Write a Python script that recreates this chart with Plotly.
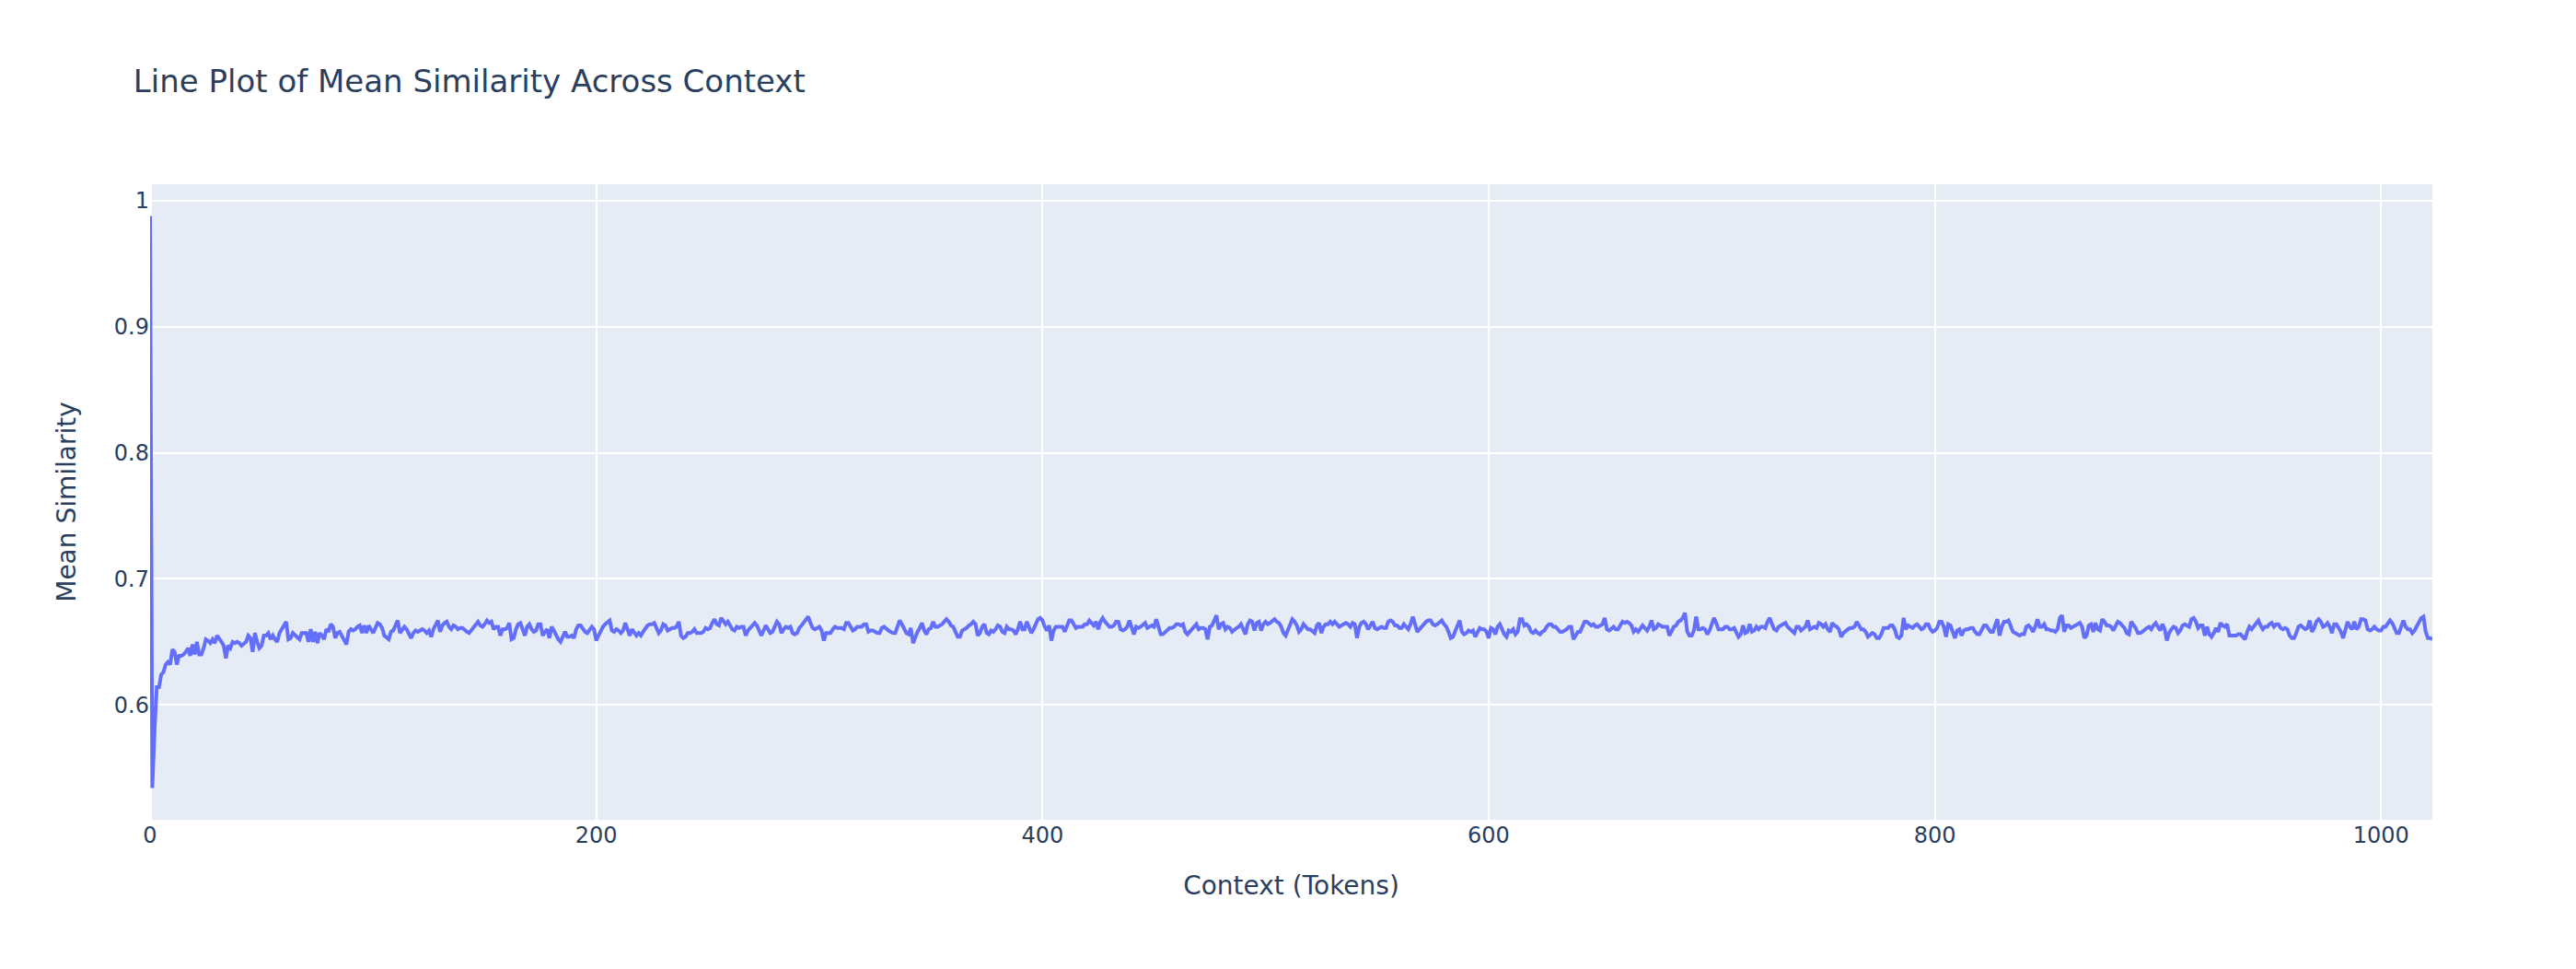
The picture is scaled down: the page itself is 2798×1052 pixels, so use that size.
import plotly.graph_objects as go

title_text = "Line Plot of Mean Similarity Across Context"
x_label = "Context (Tokens)"
y_label = "Mean Similarity"

# Mean similarity per context position
mean_similarity = [
    # 0-97
    0.988, 0.534, 0.580, 0.614, 0.614, 0.624, 0.626, 0.632, 0.634, 0.632,
    0.644, 0.642, 0.632, 0.639, 0.639, 0.640, 0.642, 0.645, 0.639, 0.648,
    0.640, 0.650, 0.640, 0.640, 0.645, 0.652, 0.651, 0.649, 0.652, 0.649,
    0.655, 0.653, 0.650, 0.647, 0.637, 0.647, 0.645, 0.650, 0.649, 0.650,
    0.649, 0.647, 0.649, 0.650, 0.655, 0.653, 0.642, 0.657, 0.650, 0.645,
    0.647, 0.655, 0.655, 0.657, 0.652, 0.655, 0.652, 0.650, 0.657, 0.660,
    0.663, 0.666, 0.652, 0.653, 0.657, 0.655, 0.653, 0.652, 0.657, 0.657,
    0.657, 0.650, 0.660, 0.650, 0.658, 0.649, 0.657, 0.655, 0.652, 0.660,
    0.658, 0.664, 0.662, 0.653, 0.657, 0.658, 0.655, 0.652, 0.648, 0.658,
    0.660, 0.659, 0.660, 0.662, 0.663, 0.657, 0.663, 0.657,
    # 98-192
    0.663, 0.660, 0.657, 0.661, 0.665, 0.664, 0.661, 0.655, 0.653, 0.652,
    0.658, 0.659, 0.663, 0.667, 0.657, 0.659, 0.662, 0.660, 0.657, 0.653,
    0.657, 0.659, 0.658, 0.659, 0.660, 0.659, 0.657, 0.659, 0.654, 0.660,
    0.664, 0.667, 0.658, 0.663, 0.665, 0.666, 0.662, 0.660, 0.663, 0.662,
    0.660, 0.661, 0.661, 0.659, 0.658, 0.657, 0.659, 0.661, 0.663, 0.666,
    0.663, 0.662, 0.664, 0.667, 0.665, 0.666, 0.660, 0.662, 0.662, 0.655,
    0.660, 0.660, 0.661, 0.665, 0.652, 0.653, 0.660, 0.664, 0.665, 0.660,
    0.655, 0.662, 0.664, 0.660, 0.658, 0.659, 0.664, 0.664, 0.655, 0.658,
    0.660, 0.653, 0.662, 0.659, 0.655, 0.652, 0.650, 0.654, 0.658, 0.654,
    0.654, 0.655, 0.653, 0.660, 0.663,
    # 193-283
    0.663, 0.660, 0.658, 0.657, 0.660, 0.662, 0.660, 0.651, 0.655, 0.659,
    0.662, 0.664, 0.666, 0.667, 0.659, 0.658, 0.660, 0.659, 0.657, 0.659,
    0.665, 0.660, 0.655, 0.660, 0.657, 0.655, 0.657, 0.655, 0.658, 0.661,
    0.663, 0.664, 0.664, 0.665, 0.660, 0.657, 0.659, 0.664, 0.663, 0.659,
    0.660, 0.661, 0.661, 0.662, 0.666, 0.655, 0.653, 0.654, 0.657, 0.657,
    0.658, 0.660, 0.657, 0.657, 0.657, 0.658, 0.661, 0.660, 0.661, 0.665,
    0.668, 0.664, 0.663, 0.669, 0.666, 0.664, 0.666, 0.663, 0.660, 0.659,
    0.662, 0.661, 0.662, 0.662, 0.655, 0.659, 0.661, 0.662, 0.665, 0.663,
    0.659, 0.655, 0.659, 0.663, 0.660, 0.657, 0.658, 0.663, 0.666, 0.664,
    0.657,
    # 284-373
    0.660, 0.662, 0.661, 0.662, 0.657, 0.656, 0.657, 0.661, 0.663, 0.665,
    0.667, 0.670, 0.665, 0.661, 0.660, 0.661, 0.662, 0.659, 0.651, 0.657,
    0.657, 0.657, 0.660, 0.662, 0.661, 0.661, 0.661, 0.660, 0.665, 0.665,
    0.662, 0.659, 0.660, 0.662, 0.662, 0.662, 0.664, 0.664, 0.658, 0.659,
    0.659, 0.658, 0.657, 0.657, 0.661, 0.662, 0.660, 0.659, 0.658, 0.657,
    0.657, 0.663, 0.667, 0.664, 0.661, 0.657, 0.656, 0.661, 0.649, 0.654,
    0.658, 0.661, 0.665, 0.659, 0.656, 0.660, 0.661, 0.666, 0.662, 0.662,
    0.663, 0.664, 0.666, 0.668, 0.666, 0.663, 0.662, 0.657, 0.654, 0.654,
    0.659, 0.660, 0.661, 0.663, 0.664, 0.666, 0.664, 0.655, 0.657, 0.662,
    # 374-464
    0.664, 0.657, 0.656, 0.659, 0.658, 0.660, 0.663, 0.662, 0.658, 0.657,
    0.662, 0.660, 0.660, 0.659, 0.656, 0.660, 0.666, 0.660, 0.660, 0.666,
    0.661, 0.657, 0.660, 0.664, 0.668, 0.669, 0.667, 0.662, 0.659, 0.663,
    0.651, 0.659, 0.662, 0.662, 0.662, 0.662, 0.658, 0.662, 0.667, 0.667,
    0.664, 0.661, 0.662, 0.662, 0.662, 0.664, 0.664, 0.667, 0.665, 0.663,
    0.666, 0.660, 0.666, 0.669, 0.666, 0.664, 0.662, 0.662, 0.663, 0.666,
    0.666, 0.660, 0.659, 0.660, 0.662, 0.667, 0.662, 0.656, 0.662, 0.661,
    0.662, 0.664, 0.665, 0.661, 0.662, 0.663, 0.662, 0.668, 0.662, 0.656,
    0.656, 0.658, 0.660, 0.661, 0.661, 0.662, 0.664, 0.664, 0.663, 0.664,
    0.658,
    # 465-555
    0.656, 0.658, 0.660, 0.662, 0.664, 0.660, 0.661, 0.661, 0.660, 0.652,
    0.662, 0.663, 0.667, 0.671, 0.660, 0.664, 0.665, 0.660, 0.662, 0.661,
    0.658, 0.660, 0.661, 0.662, 0.664, 0.660, 0.656, 0.664, 0.667, 0.666,
    0.659, 0.665, 0.666, 0.659, 0.664, 0.666, 0.664, 0.665, 0.667, 0.668,
    0.666, 0.665, 0.662, 0.657, 0.655, 0.659, 0.664, 0.668, 0.666, 0.663,
    0.658, 0.660, 0.664, 0.662, 0.660, 0.660, 0.658, 0.657, 0.663, 0.665,
    0.657, 0.662, 0.664, 0.664, 0.666, 0.664, 0.666, 0.664, 0.662, 0.663,
    0.664, 0.665, 0.664, 0.662, 0.665, 0.664, 0.653, 0.662, 0.665, 0.666,
    0.664, 0.660, 0.663, 0.666, 0.661, 0.660, 0.661, 0.662, 0.661, 0.661,
    0.666,
    # 556-646
    0.667, 0.666, 0.663, 0.663, 0.661, 0.661, 0.664, 0.662, 0.660, 0.664,
    0.670, 0.664, 0.658, 0.660, 0.662, 0.665, 0.666, 0.667, 0.667, 0.664,
    0.663, 0.664, 0.666, 0.667, 0.664, 0.662, 0.658, 0.653, 0.654, 0.659,
    0.663, 0.667, 0.658, 0.656, 0.657, 0.659, 0.658, 0.659, 0.654, 0.658,
    0.661, 0.660, 0.660, 0.658, 0.653, 0.661, 0.660, 0.656, 0.662, 0.664,
    0.660, 0.656, 0.654, 0.659, 0.658, 0.660, 0.656, 0.658, 0.668, 0.668,
    0.663, 0.664, 0.662, 0.658, 0.657, 0.659, 0.657, 0.656, 0.658, 0.659,
    0.662, 0.664, 0.664, 0.662, 0.662, 0.660, 0.658, 0.658, 0.659, 0.660,
    0.662, 0.662, 0.652, 0.655, 0.658, 0.658, 0.662, 0.666, 0.666, 0.664,
    0.663,
    # 647-737
    0.664, 0.662, 0.662, 0.663, 0.664, 0.669, 0.660, 0.659, 0.661, 0.662,
    0.660, 0.660, 0.663, 0.666, 0.665, 0.666, 0.665, 0.663, 0.658, 0.660,
    0.658, 0.660, 0.663, 0.661, 0.659, 0.662, 0.667, 0.660, 0.661, 0.664,
    0.663, 0.662, 0.662, 0.662, 0.655, 0.659, 0.662, 0.663, 0.666, 0.667,
    0.669, 0.673, 0.658, 0.655, 0.655, 0.659, 0.670, 0.660, 0.660, 0.661,
    0.660, 0.656, 0.659, 0.664, 0.669, 0.665, 0.660, 0.660, 0.660, 0.662,
    0.662, 0.660, 0.660, 0.661, 0.657, 0.654, 0.656, 0.663, 0.657, 0.658,
    0.664, 0.658, 0.659, 0.662, 0.660, 0.662, 0.662, 0.661, 0.666, 0.669,
    0.664, 0.660, 0.659, 0.662, 0.663, 0.664, 0.665, 0.662, 0.660, 0.659,
    0.657,
    # 738-828
    0.662, 0.662, 0.659, 0.661, 0.662, 0.667, 0.660, 0.661, 0.662, 0.661,
    0.665, 0.664, 0.662, 0.664, 0.660, 0.658, 0.665, 0.663, 0.662, 0.660,
    0.654, 0.657, 0.659, 0.660, 0.661, 0.661, 0.662, 0.666, 0.663, 0.660,
    0.660, 0.658, 0.654, 0.656, 0.657, 0.656, 0.653, 0.653, 0.656, 0.661,
    0.661, 0.661, 0.663, 0.663, 0.660, 0.654, 0.653, 0.655, 0.669, 0.660,
    0.663, 0.662, 0.661, 0.663, 0.664, 0.662, 0.660, 0.661, 0.664, 0.664,
    0.660, 0.658, 0.659, 0.661, 0.666, 0.666, 0.662, 0.654, 0.664, 0.663,
    0.657, 0.653, 0.659, 0.660, 0.655, 0.659, 0.660, 0.660, 0.661, 0.661,
    0.658, 0.656, 0.656, 0.659, 0.663, 0.663, 0.660, 0.658, 0.658, 0.664,
    0.668,
    # 829-918
    0.655, 0.662, 0.666, 0.666, 0.667, 0.663, 0.658, 0.657, 0.656, 0.655,
    0.656, 0.656, 0.662, 0.663, 0.661, 0.658, 0.662, 0.668, 0.662, 0.662,
    0.664, 0.660, 0.660, 0.659, 0.659, 0.658, 0.660, 0.669, 0.671, 0.658,
    0.663, 0.663, 0.661, 0.662, 0.663, 0.664, 0.665, 0.662, 0.653, 0.655,
    0.663, 0.664, 0.658, 0.665, 0.660, 0.659, 0.668, 0.666, 0.663, 0.663,
    0.662, 0.659, 0.663, 0.666, 0.665, 0.663, 0.661, 0.657, 0.656, 0.666,
    0.664, 0.661, 0.657, 0.657, 0.658, 0.660, 0.661, 0.662, 0.660, 0.663,
    0.665, 0.662, 0.659, 0.664, 0.660, 0.651, 0.657, 0.660, 0.662, 0.661,
    0.657, 0.659, 0.663, 0.664, 0.663, 0.662, 0.668, 0.669, 0.666, 0.661,
    # 919-1023
    0.663, 0.663, 0.655, 0.662, 0.656, 0.654, 0.657, 0.661, 0.658, 0.665,
    0.663, 0.662, 0.664, 0.655, 0.655, 0.655, 0.655, 0.656, 0.656, 0.654,
    0.652, 0.658, 0.662, 0.660, 0.662, 0.664, 0.667, 0.663, 0.660, 0.662,
    0.662, 0.664, 0.665, 0.662, 0.664, 0.664, 0.661, 0.660, 0.661, 0.660,
    0.655, 0.653, 0.653, 0.657, 0.662, 0.663, 0.661, 0.660, 0.661, 0.667,
    0.658, 0.661, 0.666, 0.668, 0.666, 0.662, 0.663, 0.665, 0.662, 0.657,
    0.664, 0.664, 0.661, 0.658, 0.653, 0.660, 0.666, 0.662, 0.660, 0.666,
    0.660, 0.662, 0.668, 0.668, 0.667, 0.660, 0.659, 0.660, 0.662, 0.660,
    0.659, 0.659, 0.662, 0.662, 0.664, 0.667, 0.665, 0.661, 0.657, 0.657,
    0.663, 0.667, 0.662, 0.660, 0.660, 0.657, 0.659, 0.662, 0.666, 0.669,
    0.670, 0.658, 0.653, 0.653, 0.652,
]
context_tokens = list(range(len(mean_similarity)))

x_tick_values = [0, 200, 400, 600, 800, 1000]
y_tick_values = [0.6, 0.7, 0.8, 0.9, 1.0]

fig = go.Figure(
    go.Scatter(
        x=context_tokens,
        y=mean_similarity,
        mode="lines",
        line=dict(color="#636efa", width=4),
    )
)

fig.update_layout(
    template="plotly",
    width=2782,
    height=1036,
    margin=dict(l=155, r=148, t=192, b=154),
    font=dict(family="DejaVu Sans, Verdana, sans-serif", size=24, color="#2a3f5f"),
    title=dict(
        text=title_text,
        font=dict(size=34, color="#2a3f5f"),
        x=0.0492,
        xanchor="left",
        y=0.923,
        yanchor="middle",
    ),
    plot_bgcolor="#E5ECF6",
    paper_bgcolor="white",
    showlegend=False,
)
fig.update_xaxes(
    title=dict(text=x_label, font=dict(size=28), standoff=31),
    tickvals=x_tick_values,
    tickfont=dict(size=24),
    gridcolor="white",
    gridwidth=2,
    zerolinecolor="white",
    zerolinewidth=4,
)
fig.update_yaxes(
    title=dict(text=y_label, font=dict(size=28), standoff=33),
    tickvals=y_tick_values,
    tickfont=dict(size=24),
    gridcolor="white",
    gridwidth=2,
    zerolinecolor="white",
    zerolinewidth=4,
)

fig.write_html("out.html")
